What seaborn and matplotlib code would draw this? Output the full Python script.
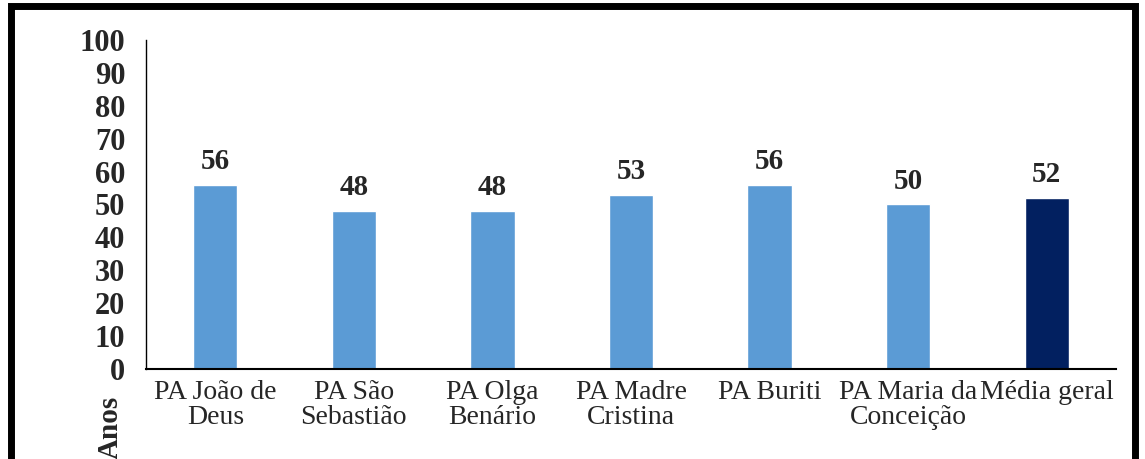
import matplotlib
matplotlib.use("Agg")
import matplotlib.pyplot as plt
import seaborn as sns
import pandas as pd
from matplotlib.patches import Rectangle

# Chart data
categories = ["PA João de\nDeus", "PA São\nSebastião", "PA Olga\nBenário", "PA Madre\nCristina",
              "PA Buriti", "PA Maria da\nConceição", "Média geral"]
ages = [56, 48, 48, 53, 56, 50, 52]
bar_colors = ["#5B9BD5"] * 6 + ["#022060"]
y_ticks = list(range(0, 101, 10))

df = pd.DataFrame({"local": categories, "anos": ages})

sns.set_theme(style="white")
plt.rcParams["font.family"] = ["Liberation Serif", "DejaVu Serif"]

fig = plt.figure(figsize=(11.45, 4.59), dpi=100)
ax = fig.add_axes([0.1275, 0.196, 0.8472, 0.717])

sns.barplot(data=df, x="local", y="anos", hue="local", palette=bar_colors,
            width=0.32, legend=False, ax=ax, saturation=1)

# value labels above bars
for container in ax.containers:
    ax.bar_label(container, fmt="%d", padding=7, fontsize=21, fontweight="bold")

ax.set_ylim(0, 100)
ax.set_yticks(y_ticks)
ax.set_yticklabels([str(t) for t in y_ticks], fontsize=22, fontweight="bold")
ax.tick_params(axis="y", length=0, pad=15)
ax.tick_params(axis="x", length=0, pad=8, labelsize=20)
for lbl in ax.get_xticklabels():
    lbl.set_linespacing(1.0)

ax.set_xlabel("")
ax.set_ylabel("Anos", fontsize=21, fontweight="bold")
ax.yaxis.set_label_coords(-0.0227, -0.178)

sns.despine(ax=ax)
ax.spines["left"].set_color("black")
ax.spines["left"].set_linewidth(1.0)
ax.spines["bottom"].set_color("black")
ax.spines["bottom"].set_linewidth(1.5)

# black frame around the chart (bottom edge falls outside the image)
fig.patches.append(Rectangle((0.0096, -0.05), 0.9817, 1.037, transform=fig.transFigure,
                             fill=False, edgecolor="black", linewidth=5, figure=fig))

fig.savefig("out.png", dpi=100)
